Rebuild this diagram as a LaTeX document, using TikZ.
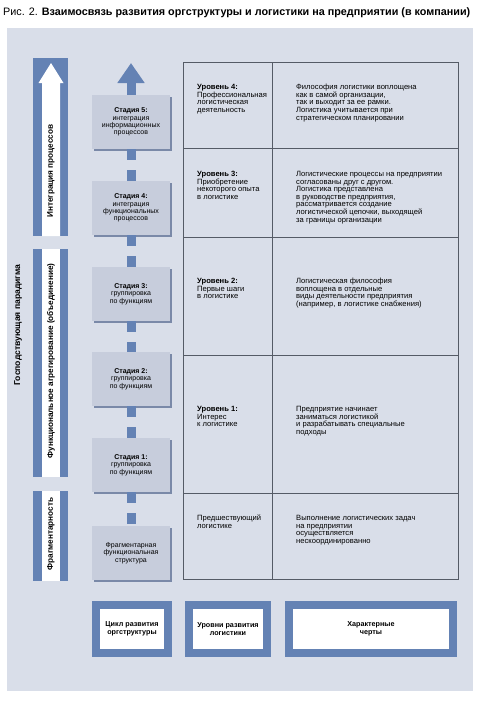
\documentclass[tikz,border=0pt]{standalone}
\usepackage{fontspec}
\setmainfont{Liberation Sans}
\usetikzlibrary{arrows.meta,shadows}
\definecolor{fond}{HTML}{D9DEE9}
\definecolor{bleu}{HTML}{6482B4}
\definecolor{clair}{HTML}{C7CDDC}
\definecolor{ombre}{HTML}{7A89A8}
\definecolor{trait}{HTML}{555B66}
\newcommand{\petit}{\fontsize{7}{7.4}\selectfont}
\newcommand{\tableau}{\fontsize{7.6}{7.6}\selectfont}
\begin{document}
\begin{tikzpicture}[x=1pt,y=-1pt]
    % Styles
    \tikzstyle{fleche}=[-{Triangle[width=26pt,length=20pt]},line width=9pt,draw=bleu]
    \tikzstyle{tige}=[line width=9pt,draw=bleu,dash pattern=on 11pt off 10pt]
    \tikzstyle{etape}=[fill=clair,minimum width=78pt,minimum height=54pt,align=center,inner sep=0pt,font=\petit,
        drop shadow={shadow xshift=2pt,shadow yshift=-2pt,fill=ombre,opacity=1}]
    \tikzstyle{niveau}=[anchor=north west,align=left,inner sep=0pt,font=\tableau]
    \tikzstyle{cadre}=[draw=bleu,line width=8pt,fill=white,minimum height=48pt,align=center,inner sep=0pt,
        font=\fontsize{7.2}{8}\selectfont\bfseries]
    \tikzstyle{phase}=[rotate=90,inner sep=0pt,font=\fontsize{8.2}{9}\selectfont\bfseries]
    % Cadre general
    \useasboundingbox (0,0) rectangle (482,705);
    \fill[fond] (7,28) rectangle (473,691);
    \node[anchor=west,inner sep=0pt,font=\fontsize{10.8}{12}\selectfont] (titre) at (3,13)
        {Рис. 2. \textbf{Взаимосвязь развития оргструктуры и логистики на предприятии (в компании)}};
    % Bandes de gauche
    \fill[bleu] (33,58) rectangle (68,236);
    \fill[white] (42,236) -- (42,83) -- (38.5,83) -- (51,63) -- (63.5,83) -- (60,83) -- (60,236) -- cycle;
    \fill[bleu] (33,249) rectangle (68,477);
    \fill[white] (42,249) rectangle (60,477);
    \fill[bleu] (33,491) rectangle (68,581);
    \fill[white] (42,491) rectangle (60,581);
    \node[phase] (integration) at (51,171) {Интеграция процессов};
    \node[phase] (agregation) at (51,361) {Функциональное агрегирование (объединение)};
    \node[phase] (fragment) at (51,534) {Фрагментарность};
    \node[phase,font=\fontsize{8.6}{9}\selectfont\bfseries] (paradigme) at (18,325) {Господствующая парадигма};
    % Stades
    \coordinate (sommet) at (131,63);
    \node[etape] (E5) at (131,122) {\textbf{Стадия 5:}\\интеграция\\информационных\\процессов};
    \node[etape] (E4) at (131,208) {\textbf{Стадия 4:}\\интеграция\\функциональных\\процессов};
    \node[etape] (E3) at (131,294) {\textbf{Стадия 3:}\\группировка\\по функциям};
    \node[etape] (E2) at (131,379) {\textbf{Стадия 2:}\\группировка\\по функциям};
    \node[etape] (E1) at (131,465) {\textbf{Стадия 1:}\\группировка\\по функциям};
    \node[etape] (E0) at (131,553) {Фрагментарная\\функциональная\\структура};
    % Liaisons
    \draw[fleche] (E5.north) -- (sommet);
    \draw[tige] (E5.south) -- (E4.north);
    \draw[tige] (E4.south) -- (E3.north);
    \draw[tige] (E3.south) -- (E2.north);
    \draw[tige] (E2.south) -- (E1.north);
    \draw[tige] (E1.south) -- (E0.north);
    % Tableau
    \draw[trait,line width=0.8pt] (183,62) rectangle (458,579);
    \draw[trait,line width=0.8pt] (272,62) -- (272,579);
    \foreach \y in {148,237,355,493}
        \draw[trait,line width=0.8pt] (183,\y) -- (458,\y);
    \node[niveau] (N4) at (197,84) {\textbf{Уровень 4:}\\Профессиональная\\логистическая\\деятельность};
    \node[niveau] (T4) at (296,84) {Философия логистики воплощена\\как в самой организации,\\так и выходит за ее рамки.\\Логистика учитывается при\\стратегическом планировании};
    \node[niveau] (N3) at (197,171) {\textbf{Уровень 3:}\\Приобретение\\некоторого опыта\\в логистике};
    \node[niveau] (T3) at (296,171) {Логистические процессы на предприятии\\согласованы друг с другом.\\Логистика представлена\\в руководстве предприятия,\\рассматривается создание\\логистической цепочки, выходящей\\за границы организации};
    \node[niveau] (N2) at (197,278) {\textbf{Уровень 2:}\\Первые шаги\\в логистике};
    \node[niveau] (T2) at (296,278) {Логистическая философия\\воплощена в отдельные\\виды деятельности предприятия\\(например, в логистике снабжения)};
    \node[niveau] (N1) at (197,406) {\textbf{Уровень 1:}\\Интерес\\к логистике};
    \node[niveau] (T1) at (296,406) {Предприятие начинает\\заниматься логистикой\\и разрабатывать специальные\\подходы};
    \node[niveau] (N0) at (197,515) {Предшествующий\\логистике};
    \node[niveau] (T0) at (296,515) {Выполнение логистических задач\\на предприятии\\осуществляется\\нескоординированно};
    % Legende
    \node[cadre,minimum width=72pt] (Lcycle) at (132,629) {Цикл развития\\оргструктуры};
    \node[cadre,minimum width=78pt] (Lniveau) at (228,629) {Уровни развития\\логистики};
    \node[cadre,minimum width=164pt] (Ltraits) at (371,629) {Характерные\\черты};
\end{tikzpicture}
\end{document}
